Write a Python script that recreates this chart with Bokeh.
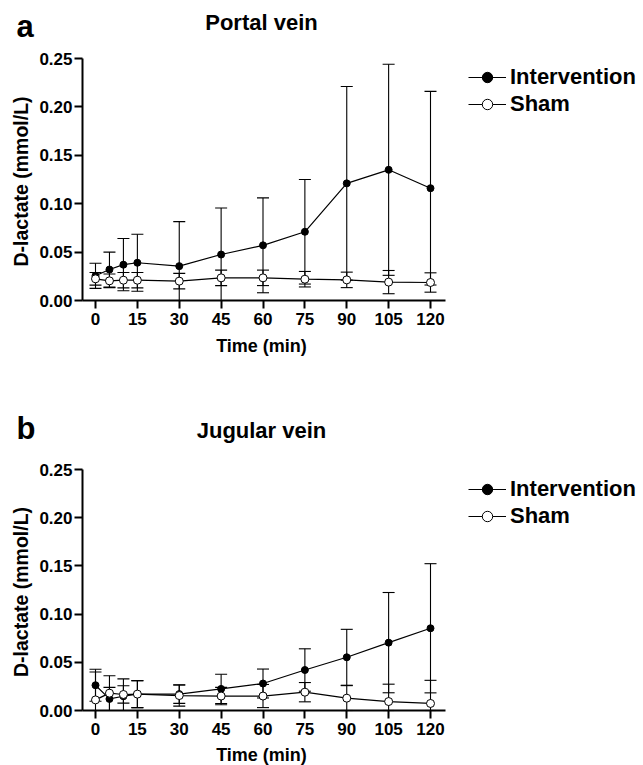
import math
from bokeh.plotting import figure
from bokeh.models import (ColumnDataSource, Whisker, TeeHead, Range1d, FixedTicker,
                          NumeralTickFormatter, Legend, LegendItem, LinearAxis, Label)
from bokeh.embed import file_html
from bokeh.resources import INLINE

# ---------------- data ----------------
times = [0, 5, 10, 15, 30, 45, 60, 75, 90, 105, 120]
x_ticks = [0, 15, 30, 45, 60, 75, 90, 105, 120]
y_ticks = [0.0, 0.05, 0.10, 0.15, 0.20, 0.25]

portal_int_mean = [0.0255, 0.032, 0.037, 0.039, 0.0355, 0.0475, 0.057, 0.071, 0.121, 0.135, 0.116]
portal_int_sd = [0.013, 0.018, 0.027, 0.0295, 0.046, 0.048, 0.049, 0.054, 0.100, 0.109, 0.100]
portal_sham_mean = [0.0224, 0.0203, 0.021, 0.021, 0.020, 0.0234, 0.0234, 0.022, 0.0213, 0.019, 0.0186]
portal_sham_sd = [0.0065, 0.007, 0.008, 0.008, 0.008, 0.008, 0.008, 0.008, 0.008, 0.012, 0.010]

jug_int_mean = [0.0262, 0.012, 0.0148, 0.017, 0.017, 0.0224, 0.028, 0.042, 0.0552, 0.0704, 0.0853]
jug_int_sd = [0.0166, 0.012, 0.018, 0.014, 0.0096, 0.0152, 0.015, 0.022, 0.029, 0.052, 0.067]
jug_sham_mean = [0.011, 0.018, 0.0166, 0.017, 0.0155, 0.015, 0.015, 0.019, 0.0128, 0.0093, 0.0073]
jug_sham_sd = [0.029, 0.018, 0.009, 0.014, 0.011, 0.009, 0.012, 0.010, 0.013, 0.018, 0.024]

FONT = "Liberation Sans"
W, H = 643, 765

# ---------------- page geometry (pixels) ----------------
X0_PX, X120_PX = 95, 430          # pixel x of ticks 0 and 120
PXU = (X120_PX - X0_PX) / 120.0   # pixels per minute
AX_LEFT, AX_RIGHT = 82, 445       # x-axis line extent
A_TOP, A_BOT = 58, 300            # panel a: y of 0.25 and 0.00
B_TOP, B_BOT = 469, 710           # panel b: y of 0.25 and 0.00


def data_x(px):
    return (px - X0_PX) / PXU


XS, XE = data_x(AX_LEFT), data_x(AX_RIGHT)
A_PPU = (A_BOT - A_TOP) / 0.25
B_PPU = (B_BOT - B_TOP) / 0.25

p = figure(width=W, height=H, output_backend="svg", toolbar_location=None,
           x_range=Range1d(data_x(0), data_x(W)),
           y_range=Range1d(-(H - A_BOT) / A_PPU, A_BOT / A_PPU),
           x_axis_type=None, y_axis_type=None, min_border=0)
p.extra_y_ranges = {"b": Range1d(-(H - B_BOT) / B_PPU, B_BOT / B_PPU)}
p.outline_line_color = None
p.background_fill_color = "white"
p.border_fill_color = "white"


def page_y(py):
    # page pixel y -> default-range data y
    return (A_BOT - py) / A_PPU


def style_axis(ax):
    ax.axis_line_width = 2
    ax.axis_line_color = "black"
    ax.major_tick_line_width = 2
    ax.major_tick_line_color = "black"
    ax.major_tick_in = 0
    ax.major_tick_out = 8
    ax.minor_tick_line_color = None
    ax.major_label_text_font = FONT
    ax.major_label_text_font_style = "bold"
    ax.major_label_text_font_size = "17px"
    ax.major_label_text_color = "black"


def text(x_px, base_px, s, size_px, align="left", angle=0.0, center=None):
    # place by baseline (converted to em-middle) unless a center is given
    y_mid = center if center is not None else base_px - 0.3465 * size_px
    p.add_layout(Label(x=data_x(x_px), y=page_y(y_mid), text=s, text_font=FONT,
                       text_font_size=f"{size_px}px", text_font_style="bold",
                       text_color="black", text_align=align, text_baseline="middle",
                       angle=angle))


def panel(rname, int_mean, int_sd, sham_mean, sham_sd, top, bot,
          letter, title, letter_base, title_base, xlabel_base, legend_row1):
    yax = LinearAxis(y_range_name=rname, fixed_location=XS, bounds=(0, 0.25),
                     ticker=FixedTicker(ticks=y_ticks),
                     formatter=NumeralTickFormatter(format="0.00"),
                     major_label_standoff=2)
    style_axis(yax)
    p.add_layout(yax, "left")
    xax = LinearAxis(y_range_name=rname, fixed_location=0, bounds=(XS, XE),
                     ticker=FixedTicker(ticks=x_ticks), major_label_standoff=4)
    style_axis(xax)
    p.add_layout(xax, "below")

    def add_group(mean, sd, filled):
        upper = [m + s for m, s in zip(mean, sd)]
        lower = [max(m - s, 0.0) for m, s in zip(mean, sd)]
        src = ColumnDataSource(dict(x=times, y=mean, upper=upper, lower=lower))
        w = Whisker(base="x", upper="upper", lower="lower", source=src,
                    y_range_name=rname, line_color="black", line_width=1.1,
                    upper_head=TeeHead(size=12, line_color="black", line_width=1.1),
                    lower_head=TeeHead(size=12, line_color="black", line_width=1.1))
        p.add_layout(w)
        ln = p.line("x", "y", source=src, y_range_name=rname,
                    line_color="black", line_width=1.2)
        sc = p.scatter("x", "y", source=src, y_range_name=rname, marker="circle",
                       size=7 if filled else 8,
                       fill_color="black" if filled else "white",
                       line_color="black", line_width=1.0)
        return ln, sc

    l1, s1 = add_group(int_mean, int_sd, True)
    l2, s2 = add_group(sham_mean, sham_sd, False)

    row_h = 26
    legend_top = legend_row1 - row_h / 2
    legend_bottom = legend_top + row_h + 1 + row_h
    legend = Legend(items=[LegendItem(label="Intervention", renderers=[l1, s1]),
                           LegendItem(label="Sham", renderers=[l2, s2])],
                    location=(468, H - legend_bottom),
                    background_fill_alpha=0, border_line_color=None,
                    padding=0, margin=0, spacing=1,
                    glyph_width=38, glyph_height=row_h, label_height=row_h,
                    label_standoff=4, label_text_font=FONT,
                    label_text_font_size="22px", label_text_font_style="bold",
                    label_text_color="black")
    p.add_layout(legend)

    text(16, letter_base, letter, 31)
    text(261, title_base, title, 22, align="center")
    text(261, xlabel_base, "Time (min)", 18, align="center")
    text(20, None, "D-lactate (mmol/L)", 19.5, align="center", angle=math.pi / 2,
         center=(top + bot) / 2 + 2)


panel("default", portal_int_mean, portal_int_sd, portal_sham_mean, portal_sham_sd,
      A_TOP, A_BOT, "a", "Portal vein", 37, 30, 352, 77)
panel("b", jug_int_mean, jug_int_sd, jug_sham_mean, jug_sham_sd,
      B_TOP, B_BOT, "b", "Jugular vein", 439, 438, 761, 489)

open("out.html", "w").write(file_html(p, INLINE))
